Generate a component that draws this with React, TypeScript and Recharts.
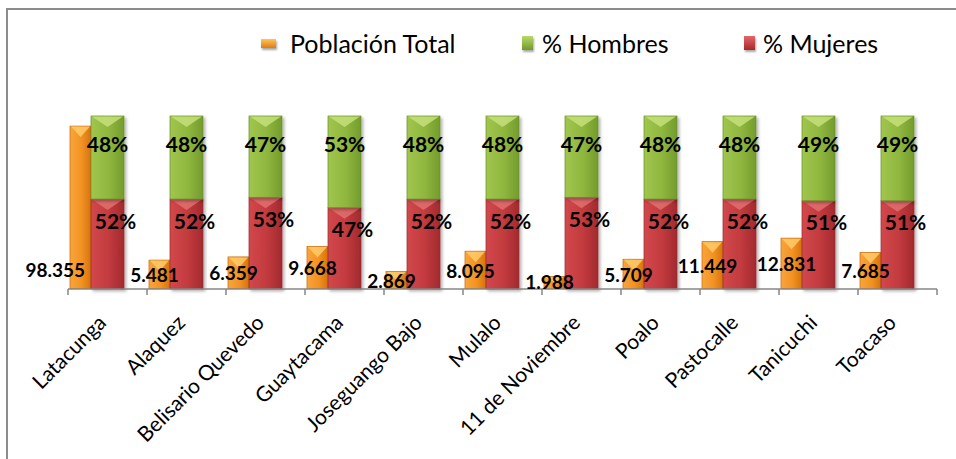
import React from 'react';
import { BarChart, Bar, XAxis, YAxis, LabelList } from 'recharts';

const categories = [
  'Latacunga',
  'Alaquez',
  'Belisario Quevedo',
  'Guaytacama',
  'Joseguango Bajo',
  'Mulalo',
  '11 de Noviembre',
  'Poalo',
  'Pastocalle',
  'Tanicuchi',
  'Toacaso',
];
const poblacionTotal = [98355, 5481, 6359, 9668, 2869, 8095, 1988, 5709, 11449, 12831, 7685];
const pctHombres = [48, 48, 47, 53, 48, 48, 47, 48, 48, 49, 49];
const pctMujeres = [52, 52, 53, 47, 52, 52, 53, 52, 52, 51, 51];

const data = categories.map((name, i) => ({
  name,
  total: poblacionTotal[i],
  hombres: pctHombres[i],
  mujeres: pctMujeres[i],
}));

const FONT = 'Lato, "Open Sans", sans-serif';
const AXIS = '#868686';

const fmtMiles = (v: number) => String(v).replace(/\B(?=(\d{3})+(?!\d))/g, '.');

// bar with a lighter "V" bevel at the top, like the office 3D style
const bevelShape = (grad: string, light: string, edge: string) => (props: any) => {
  const { x, y, width, height } = props;
  if (!height || height <= 0) return <g />;
  const v = Math.min(11, height / 2);
  return (
    <g filter="url(#barShadow)">
      <rect x={x} y={y} width={width} height={height} fill={`url(#${grad})`} stroke={edge} strokeWidth={0.7} />
      <polygon
        points={`${x + 1},${y + 0.5} ${x + width - 1},${y + 0.5} ${x + width / 2},${y + v}`}
        fill={light}
        opacity={0.85}
      />
    </g>
  );
};

const PopLabel = (props: any) => {
  const { x, y, width, height, value } = props;
  const base = y + height;
  if (height > 100) {
    return (
      <text x={x + width - 6} y={base - 20} textAnchor="end" dominantBaseline="central"
        fontFamily={FONT} fontWeight={700} fontSize={19} fill="#000">
        {fmtMiles(value)}
      </text>
    );
  }
  return (
    <text x={x + width / 2 - 5} y={Math.min(y + height / 2, base - 8)} textAnchor="middle" dominantBaseline="central"
      fontFamily={FONT} fontWeight={700} fontSize={19} fill="#000">
      {fmtMiles(value)}
    </text>
  );
};

const pctLabel = (dx: number, dy: number) => (props: any) => {
  const { x, y, width, value } = props;
  return (
    <text x={x + width / 2 + dx} y={y + dy} textAnchor="middle" dominantBaseline="central"
      fontFamily={FONT} fontWeight={700} fontSize={21} fill="#000">
      {`${value}%`}
    </text>
  );
};

const CategoryTick = (props: any) => {
  const { x, y, payload, index, visibleTicksCount } = props;
  const half = payload?.offset ?? 39.5;
  const axisY = y - 8;
  return (
    <g>
      <line x1={x - half} x2={x - half} y1={axisY} y2={axisY + 6} stroke={AXIS} strokeWidth={1.5} />
      {index === visibleTicksCount - 1 && (
        <line x1={x + half} x2={x + half} y1={axisY} y2={axisY + 6} stroke={AXIS} strokeWidth={1.5} />
      )}
      <text x={x} y={axisY + 35} textAnchor="end" transform={`rotate(-45, ${x}, ${axisY + 35})`}
        fontFamily={FONT} fontSize={21} fill="#000">
        {payload.value}
      </text>
    </g>
  );
};

const legendItems = [
  { label: 'Población Total', from: '#FFC45A', to: '#E07B10', w: 15, h: 9, gap: 14, left: 261 },
  { label: '% Hombres', from: '#B9DA6A', to: '#6F9A2A', w: 11, h: 14, gap: 9, left: 522 },
  { label: '% Mujeres', from: '#E0686A', to: '#A8282C', w: 11, h: 14, gap: 8, left: 744 },
];

const ChartLegend = () => (
  <div style={{ position: 'absolute', left: 0, top: 28, width: 956, height: 30, fontFamily: FONT, fontSize: 25, color: '#000' }}>
    {legendItems.map((it) => (
      <div key={it.label} style={{ position: 'absolute', left: it.left, top: 0, height: 30, display: 'flex', alignItems: 'center', whiteSpace: 'nowrap' }}>
        <span
          style={{
            display: 'inline-block',
            width: it.w,
            height: it.h,
            background: `linear-gradient(${it.from}, ${it.to})`,
            boxShadow: '1px 2px 2px rgba(0,0,0,0.35)',
            marginRight: it.gap,
          }}
        />
        <span>{it.label}</span>
      </div>
    ))}
  </div>
);

export default function App() {
  return (
    <div style={{ position: 'absolute', left: 0, top: 0, width: 956, height: 459, background: '#fff', overflow: 'hidden' }}>
      <div style={{ position: 'absolute', left: 6, top: 8, width: 960, height: 460, borderLeft: '2px solid #8c8c8c', borderTop: '2px solid #8c8c8c' }} />
      <ChartLegend />
      <div style={{ position: 'absolute', left: 0, top: 0 }}>
        <BarChart
          width={956}
          height={459}
          data={data}
          margin={{ top: 116, right: 19, left: 68, bottom: 0 }}
          barGap={0}
          style={{ fontFamily: FONT }}
        >
          <defs>
            <linearGradient id="gOrange" x1="0" y1="0" x2="1" y2="0">
              <stop offset="0%" stopColor="#F9A53C" />
              <stop offset="55%" stopColor="#F39222" />
              <stop offset="100%" stopColor="#D5740C" />
            </linearGradient>
            <linearGradient id="gGreen" x1="0" y1="0" x2="1" y2="0">
              <stop offset="0%" stopColor="#A0C64E" />
              <stop offset="55%" stopColor="#8FB63E" />
              <stop offset="100%" stopColor="#749C2D" />
            </linearGradient>
            <linearGradient id="gRed" x1="0" y1="0" x2="1" y2="0">
              <stop offset="0%" stopColor="#D2484C" />
              <stop offset="55%" stopColor="#C23A3E" />
              <stop offset="100%" stopColor="#A22A2E" />
            </linearGradient>
            <filter id="barShadow" x="-20%" y="-10%" width="150%" height="130%">
              <feDropShadow dx="2" dy="2" stdDeviation="1.5" floodColor="#000" floodOpacity="0.3" />
            </filter>
          </defs>
          <XAxis
            dataKey="name"
            height={170}
            interval={0}
            tickSize={6}
            tickMargin={2}
            tickLine={false}
            axisLine={{ stroke: AXIS, strokeWidth: 1.5 }}
            tick={<CategoryTick />}
          />
          <XAxis xAxisId="pop" dataKey="name" hide />
          <YAxis yAxisId="pct" domain={[0, 100]} hide />
          <YAxis yAxisId="pop" scale="sqrt" domain={[500, 110000]} hide allowDataOverflow />
          <Bar
            dataKey="total"
            name="Población Total"
            xAxisId="pop"
            yAxisId="pop"
            barSize={21}
            fill="#F39222"
            shape={bevelShape('gOrange', '#FFCB6B', '#C86A0A')}
            isAnimationActive={false}
          >
            <LabelList dataKey="total" content={<PopLabel />} />
          </Bar>
          <Bar dataKey="spacer" xAxisId="pop" yAxisId="pop" barSize={55} fill="none" legendType="none" isAnimationActive={false} />
          <Bar
            dataKey="mujeres"
            name="% Mujeres"
            yAxisId="pct"
            stackId="pct"
            barSize={33}
            fill="#C23A3E"
            shape={bevelShape('gRed', '#E26E70', '#9A2A2D')}
            isAnimationActive={false}
          >
            <LabelList dataKey="mujeres" content={pctLabel(8, 21)} />
          </Bar>
          <Bar
            dataKey="hombres"
            name="% Hombres"
            yAxisId="pct"
            stackId="pct"
            barSize={33}
            fill="#8FB63E"
            shape={bevelShape('gGreen', '#C4E07A', '#6B8F2A')}
            isAnimationActive={false}
          >
            <LabelList dataKey="hombres" content={pctLabel(0, 27)} />
          </Bar>
        </BarChart>
      </div>
    </div>
  );
}
